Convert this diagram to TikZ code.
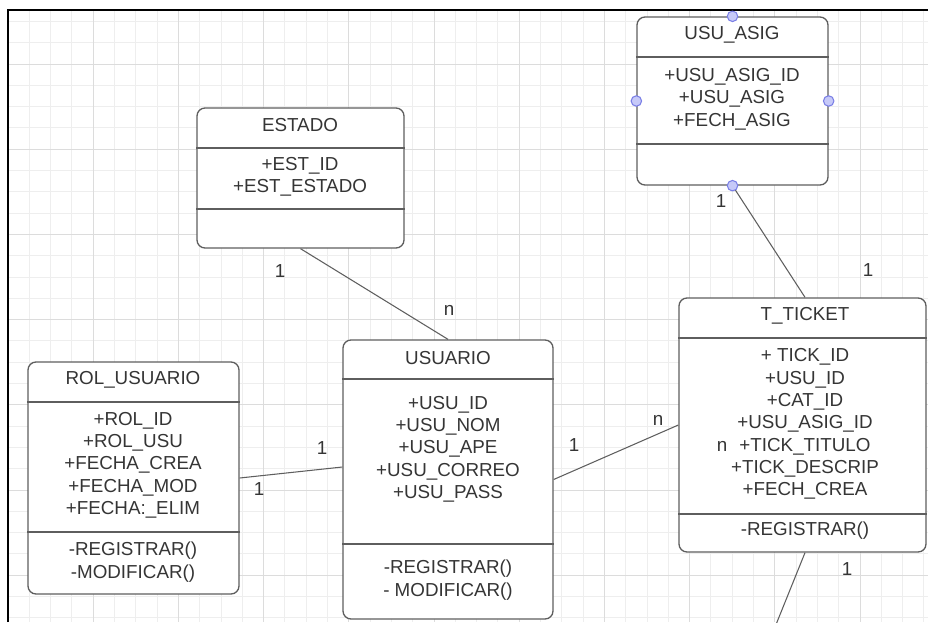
\documentclass[tikz,border=0pt]{standalone}
\usepackage{fontspec}
\setmainfont{Liberation Sans}
\usetikzlibrary{fit}

\definecolor{gridminor}{HTML}{EEEEEE}
\definecolor{gridmajor}{HTML}{DCDCDC}
\definecolor{boxline}{HTML}{5E5E5E}
\definecolor{textgray}{HTML}{353535}
\definecolor{handlefill}{HTML}{C6C9F8}
\definecolor{handleline}{HTML}{7A7FE6}

\tikzset{
  entity/.style={draw=boxline, line width=0.75pt, rounded corners=0.16cm, fill=white, inner sep=0pt},
  txt/.style={text=textgray, font=\fontsize{10.7}{12.7}\selectfont, align=center, inner sep=0pt},
  rel/.style={draw=boxline, line width=0.6pt},
  handle/.style={circle, draw=handleline, fill=handlefill, line width=0.6pt, inner sep=0pt, minimum size=0.21cm},
}

% horizontal rule across a class box at a given height
\newcommand\divider[2]{\draw[boxline, line width=0.75pt] (#1.west |- 0,#2) -- (#1.east |- 0,#2);}

\begin{document}
\begin{tikzpicture}[x=0.02cm, y=-0.02cm]
  \useasboundingbox (0,0) rectangle (928,622);
  \fill[white] (0,0) rectangle (928,622);

  % background grid
  \foreach \k in {0,...,43}
    \draw[gridminor, line width=0.5pt] (8+21.3*\k,10) -- (8+21.3*\k,622);
  \foreach \k in {0,...,28}
    \draw[gridminor, line width=0.5pt] (8,21.4+21.3*\k) -- (928,21.4+21.3*\k);
  \foreach \k in {0,4,...,40}
    \draw[gridmajor, line width=0.5pt] (8+21.3*\k,10) -- (8+21.3*\k,622);
  \foreach \k in {2,6,...,26}
    \draw[gridmajor, line width=0.5pt] (8,21.4+21.3*\k) -- (928,21.4+21.3*\k);
  \draw[black, line width=1.2pt] (8,622) -- (8,10) -- (928,10);

  % class boxes
  \node[entity, fit={(637,17) (828,185)}] (usuasig) {};
  \node[entity, fit={(197,108) (404,248)}] (estado) {};
  \node[entity, fit={(28,362) (239,594)}] (rolusuario) {};
  \node[entity, fit={(343,340) (553,619)}] (usuario) {};
  \node[entity, fit={(679,298) (926,552)}] (tticket) {};

  \divider{usuasig}{57}
  \divider{usuasig}{144}
  \divider{estado}{148}
  \divider{estado}{209}
  \divider{rolusuario}{402}
  \divider{rolusuario}{532}
  \divider{usuario}{379}
  \divider{usuario}{544}
  \divider{tticket}{338}
  \divider{tticket}{514}

  % names, attributes, methods
  \node[txt] (usuasigname) at (732,35) {USU\_ASIG};
  \node[txt] (usuasigattr) at (732,99) {+USU\_ASIG\_ID\\+USU\_ASIG\\+FECH\_ASIG};

  \node[txt] (estadoname) at (300,125) {ESTADO};
  \node[txt] (estadoattr) at (300,177) {+EST\_ID\\+EST\_ESTADO};

  \node[txt] (rolname) at (133,380) {ROL\_USUARIO};
  \node[txt] (rolattr) at (133,465) {+ROL\_ID\\+ROL\_USU\\+FECHA\_CREA\\+FECHA\_MOD\\+FECHA:\_ELIM};
  \node[txt] (rolmeth) at (133,562) {-REGISTRAR()\\-MODIFICAR()};

  \node[txt] (usuarioname) at (448,358) {USUARIO};
  \node[txt] (usuarioattr) at (448,449) {+USU\_ID\\+USU\_NOM\\+USU\_APE\\+USU\_CORREO\\+USU\_PASS};
  \node[txt] (usuariometh) at (448,580) {-REGISTRAR()\\- MODIFICAR()};

  \node[txt] (tticketname) at (805,316) {T\_TICKET};
  \node[txt] (tticketattr) at (805,424) {+ TICK\_ID\\+USU\_ID\\+CAT\_ID\\+USU\_ASIG\_ID\\+TICK\_TITULO\\+TICK\_DESCRIP\\+FECH\_CREA};
  \node[txt] (tticketmeth) at (805,531) {-REGISTRAR()};

  % relations
  \coordinate (offpage) at (773,632);
  \draw[rel] (estado.south) -- (usuario.north);
  \draw[rel] (rolusuario.east) -- ([yshift=0.25cm]usuario.west);
  \draw[rel] (usuario.east) -- (tticket.west);
  \draw[rel] (usuasig.south) -- ([xshift=0.05cm]tticket.north);
  \draw[rel] ([xshift=0.05cm]tticket.south) -- (offpage);

  % selection handles
  \node[handle] (hnorth) at (usuasig.north) {};
  \node[handle] (hwest) at (usuasig.west) {};
  \node[handle] (heast) at (usuasig.east) {};
  \node[handle] (hsouth) at (usuasig.south) {};

  % multiplicities
  \node[txt] (mestado) at (280,271) {1};
  \node[txt] (musuarioa) at (449,310) {n};
  \node[txt] (musuariob) at (322,448) {1};
  \node[txt] (mrol) at (259,489) {1};
  \node[txt] (musuarioc) at (574,445) {1};
  \node[txt] (mticketa) at (658,420) {n};
  \node[txt] (musuasig) at (721,201) {1};
  \node[txt] (mticketb) at (868,270) {1};
  \node[txt] (mticketc) at (847,569) {1};
  \node[txt] (mticketd) at (722,446) {n};
\end{tikzpicture}
\end{document}
